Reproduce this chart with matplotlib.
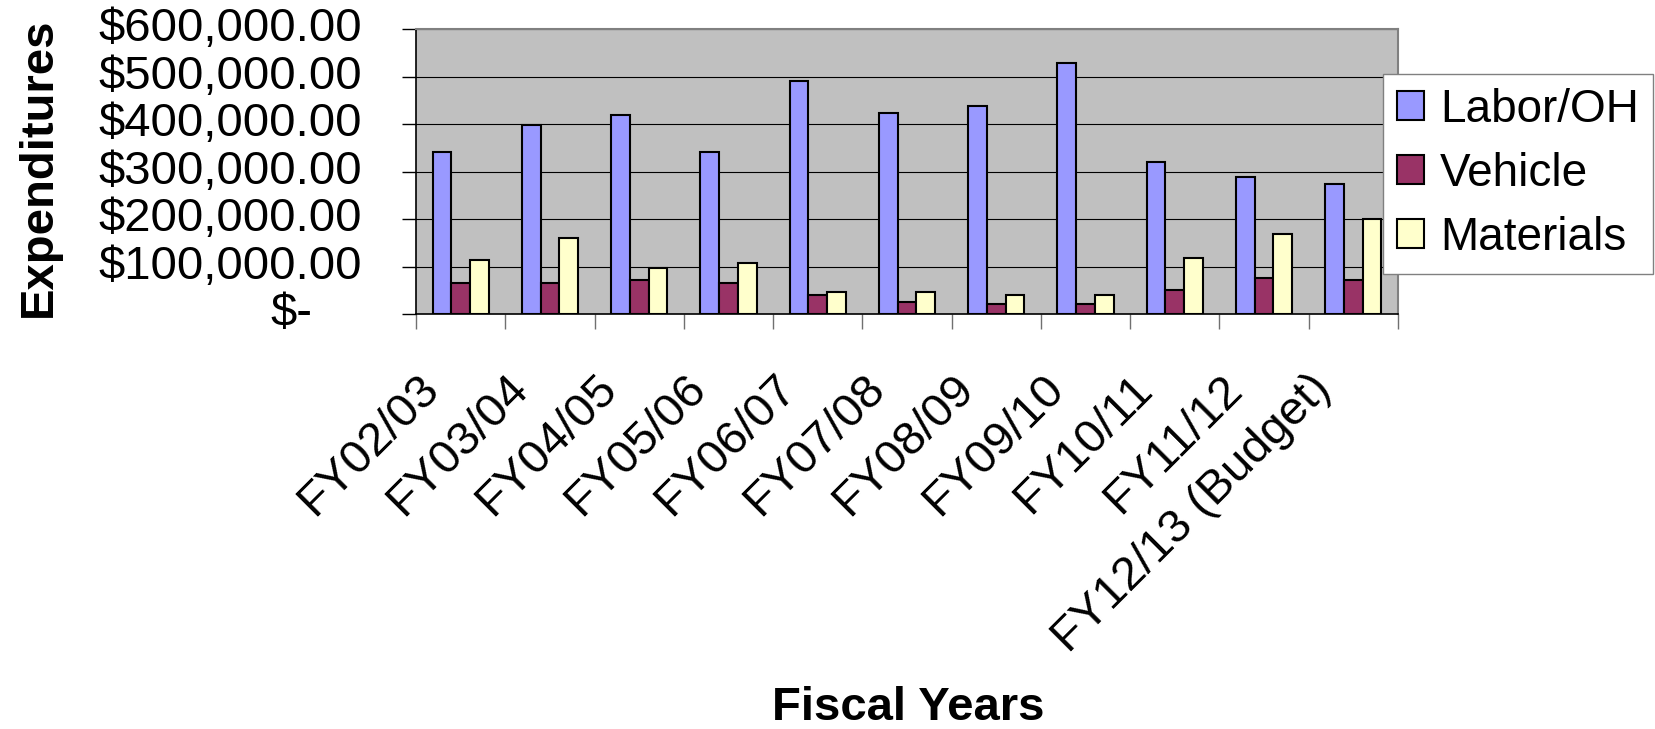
import matplotlib
matplotlib.use("Agg")
import matplotlib.pyplot as plt
import matplotlib.transforms as mtransforms
import numpy as np

# ========= Data =========
years = ["FY02/03", "FY03/04", "FY04/05", "FY05/06", "FY06/07", "FY07/08",
         "FY08/09", "FY09/10", "FY10/11", "FY11/12", "FY12/13 (Budget)"]
labor = [341000, 398000, 419000, 341000, 492000, 424000, 439000, 528000, 320000, 290000, 274000]
vehicle = [66500, 66500, 72000, 66500, 41000, 26000, 21000, 21000, 51000, 77000, 72000]
materials = [114000, 160000, 98000, 108000, 46000, 46000, 41000, 41000, 119000, 170000, 201000]
yticks = [0, 100000, 200000, 300000, 400000, 500000, 600000]
ytick_labels = ["$-", "$100,000.00", "$200,000.00", "$300,000.00",
                "$400,000.00", "$500,000.00", "$600,000.00"]

plt.rcParams["font.family"] = ["Liberation Sans", "DejaVu Sans"]
plt.rcParams["text.parse_math"] = False

W, H, DPI = 1656, 729, 100
fig = plt.figure(figsize=(W / DPI, H / DPI), dpi=DPI)
ax = fig.add_axes([416 / W, 1 - 314.3 / H, (1398 - 416) / W, (314.3 - 29.3) / H])
ax.set_facecolor("#C0C0C0")

x = np.arange(len(years))
bw = 0.21
series = [(labor, "#9999FF", "Labor/OH"), (vehicle, "#993366", "Vehicle"),
          (materials, "#FFFFCC", "Materials")]
for k, (vals, col, name) in enumerate(series):
    ax.bar(x + (k - 1) * bw, vals, width=bw, color=col, edgecolor="black",
           linewidth=1.5, label=name, zorder=3)

ax.set_xlim(-0.5, len(years) - 0.5)
ax.set_ylim(0, 600000)
ax.set_yticks(yticks)
ax.yaxis.grid(True, color="black", linewidth=0.8, zorder=1)
ax.set_axisbelow(True)
ax.tick_params(axis="y", length=10, width=1, direction="out", color="black", labelleft=False)
ax.set_xticks(np.arange(-0.5, len(years)))
ax.tick_params(axis="x", length=11, width=1, direction="out", color="#707070", labelbottom=False)

for side in ("left", "bottom"):
    ax.spines[side].set_color("black")
    ax.spines[side].set_linewidth(1.2)
for side in ("top", "right"):
    ax.spines[side].set_color("#808080")
    ax.spines[side].set_linewidth(1.5)

# y tick labels (accounting style, "$-" sits further left)
ytrans = ax.get_yaxis_transform()
for v, lab in zip(yticks, ytick_labels):
    off = 104 if v == 0 else 54
    ax.text(-off / (1398 - 416), v, lab, transform=ytrans, ha="right", va="center",
            fontsize=34, clip_on=False)

# x tick labels, rotated 45
shift = mtransforms.ScaledTranslation(-29 / DPI, -68 / DPI, fig.dpi_scale_trans)
for i, lab in enumerate(years):
    ax.text(i, 0, lab, transform=ax.transData + shift, rotation=45,
            rotation_mode="anchor", ha="right", va="center", fontsize=34, clip_on=False)

fig.text(51 / W, 1 - 167 / H, "Expenditures", rotation=90, rotation_mode="anchor",
         ha="center", va="baseline", fontsize=34, fontweight="bold")
fig.text(908 / W, 1 - 720 / H, "Fiscal Years", ha="center", va="baseline",
         fontsize=34, fontweight="bold")

leg = fig.legend(loc="upper left", bbox_to_anchor=(1383 / W, 1 - 74 / H), borderaxespad=0,
                 fontsize=33, frameon=True, fancybox=False, framealpha=1,
                 edgecolor="#808080", handlelength=0.6, handleheight=0.6,
                 handletextpad=0.35, labelspacing=0.44, borderpad=0.3)
leg.get_frame().set_linewidth(1)

fig.savefig("out.png", dpi=DPI)
